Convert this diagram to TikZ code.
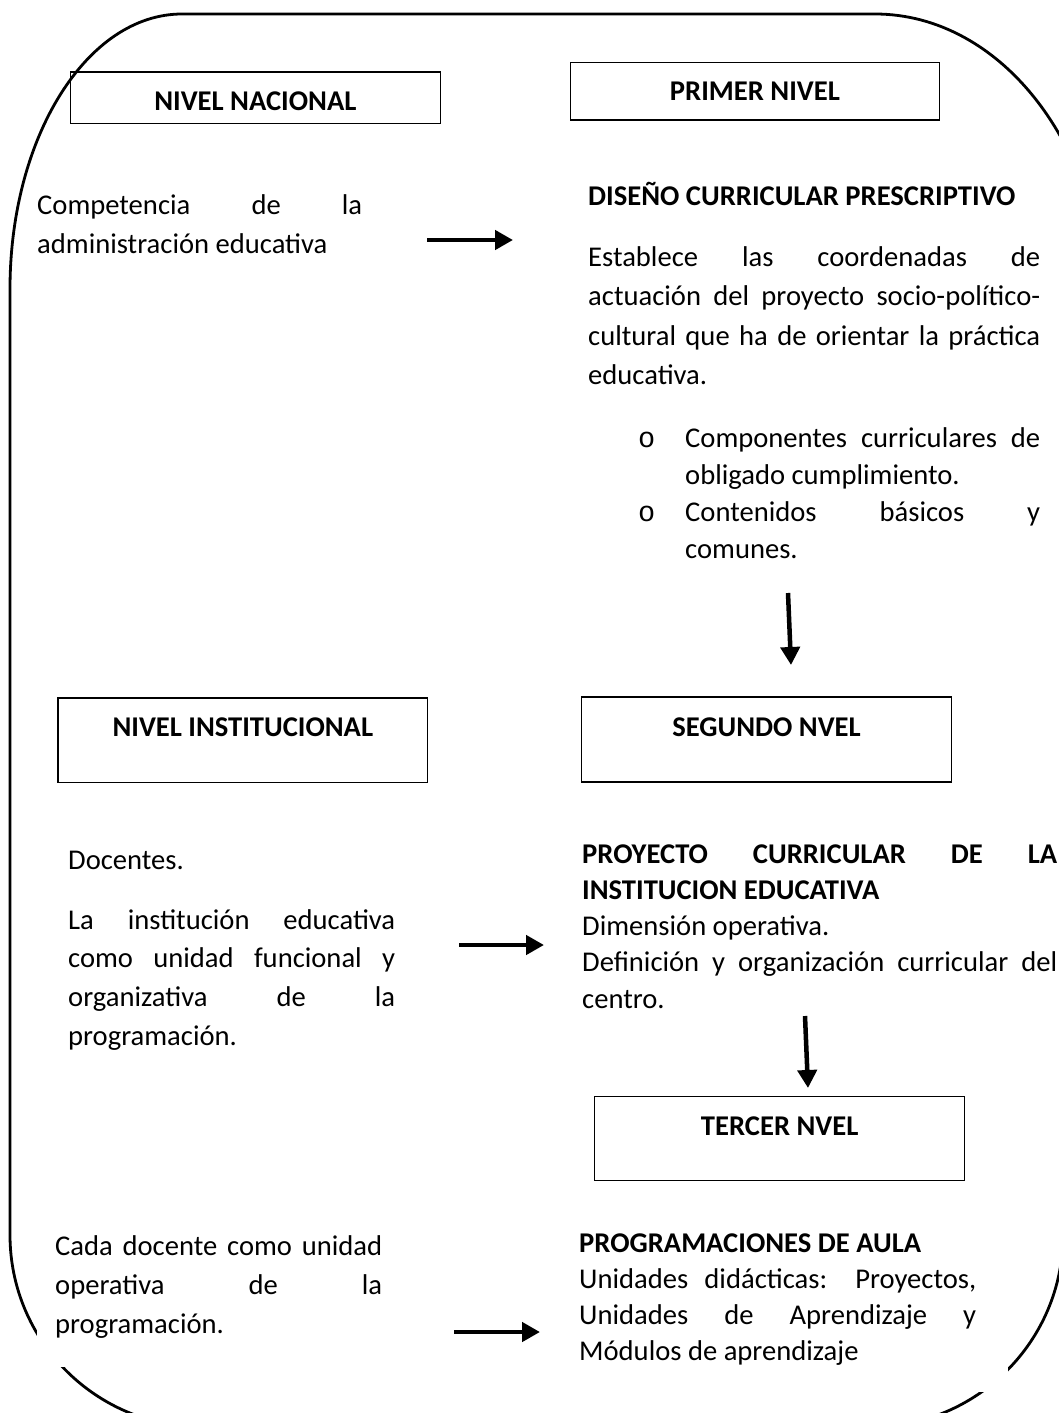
\documentclass[tikz,border=0pt]{standalone}
\usepackage{fontspec}
\setmainfont{Carlito}
\newfontfamily\monofam{Liberation Mono}
\usetikzlibrary{arrows.meta}
\newcommand\txtfont[1]{\fontsize{28.6}{#1}\selectfont\parindent=0pt\parskip=0pt\hyphenpenalty=10000\exhyphenpenalty=10000\tolerance=9999\relax}
\begin{document}
\begin{tikzpicture}[x=1pt,y=-1pt,
  lvlbox/.style={draw, line width=1.3pt, anchor=north west, inner sep=0pt, font={\txtfont{39}\bfseries}},
  txt/.style={anchor=north west, inner sep=0pt, align=justify},
  oneline/.style={anchor=north west, inner sep=0pt},
  arr/.style={line width=4.5pt, -{Triangle[length=18pt,width=19pt]}},
  frame/.style={line width=2.8pt}
]
\useasboundingbox (0,0) rectangle (1059,1413);
\fill[white] (0,0) rectangle (1059,1413);
% outer rounded frame (partly outside the page)
\begin{scope}
\clip (0,0) rectangle (1059,1413);
\draw[frame] (10,289) .. controls (10,137) and (87,14) .. (182,14) -- (875,14)
  .. controls (1002,14) and (1105,148) .. (1105,314) -- (1063,1235)
  .. controls (1063,1341) and (977,1427) .. (871,1427) -- (202,1427)
  .. controls (96,1427) and (10,1341) .. (10,1235) -- cycle;
\end{scope}
% white text-box backgrounds that hide parts of the frame
\fill[white] (37,1225) rectangle (402,1367);
\fill[white] (570,1230) rectangle (1008,1392);

% level boxes
\node[lvlbox, minimum width=369.8pt, text height=38.1pt, text depth=12.9pt] (nn) at (69.8,71.5) {NIVEL NACIONAL};
\node[lvlbox, minimum width=369.5pt, text height=38.5pt, text depth=19.2pt] (pn) at (569.5,61.7) {PRIMER NIVEL};
\node[lvlbox, minimum width=369.5pt, text height=38.5pt, text depth=45.9pt] (ni) at (57.4,697.4) {NIVEL INSTITUCIONAL};
\node[lvlbox, minimum width=370.2pt, text height=39.6pt, text depth=45.4pt] (sn) at (580.8,696.4) {SEGUNDO NVEL};
\node[lvlbox, minimum width=370pt, text height=39.5pt, text depth=44.5pt] (tn) at (594,1095.7) {TERCER NVEL};

% texts
\node[txt, text width=325pt, font={\txtfont{39}}] (comp) at (37,186.7) {\strut Competencia de la\linebreak administración educativa};
\node[oneline, font={\txtfont{39}\bfseries}] (dcp) at (588,178.4) {\strut DISEÑO CURRICULAR PRESCRIPTIVO};
\node[txt, text width=452pt, font={\txtfont{39.5}}] (est) at (588,238.35) {\strut Establece las coordenadas de\linebreak actuación del proyecto socio-político-\linebreak cultural que ha de orientar la práctica\linebreak educativa.};
\node[txt, text width=355pt, font={\txtfont{37}}] (b1) at (685,421.1) {\strut\llap{\monofam o\hspace{30pt}}Componentes curriculares de\linebreak obligado cumplimiento.};
\node[txt, text width=355pt, font={\txtfont{37}}] (b2) at (685,495.1) {\strut\llap{\monofam o\hspace{30pt}}Contenidos básicos y\linebreak comunes.};

\node[oneline, font={\txtfont{39}}] (doc) at (68,841.7) {\strut Docentes.};
\node[txt, text width=327pt, font={\txtfont{38.6}}] (inst) at (68,902) {\strut La institución educativa\linebreak como unidad funcional y\linebreak organizativa de la\linebreak programación.};
\node[txt, text width=475pt, font={\txtfont{36.25}}] (pci) at (582,837.6) {\strut\textbf{PROYECTO CURRICULAR DE LA\linebreak INSTITUCION EDUCATIVA}\par Dimensión operativa.\par Definición y organización curricular del\linebreak centro.};

\node[txt, text width=327pt, font={\txtfont{39}}] (cada) at (55,1227.7) {\strut Cada docente como unidad\linebreak operativa de la\linebreak programación.};
\node[txt, text width=397pt, font={\txtfont{36}}] (prog) at (579,1226.8) {\strut\textbf{PROGRAMACIONES DE AULA}\par Unidades didácticas: Proyectos,\linebreak Unidades de Aprendizaje y\linebreak Módulos de aprendizaje};

% arrows
\coordinate (h1s) at (427,240); \coordinate (h1e) at (513,240);
\coordinate (v1s) at (788,593); \coordinate (v1e) at (791,665);
\coordinate (h2s) at (459,945); \coordinate (h2e) at (544,945);
\coordinate (v2s) at (805,1016); \coordinate (v2e) at (808,1088);
\coordinate (h3s) at (454,1332); \coordinate (h3e) at (540,1332);
\draw[arr] (h1s) -- (h1e);
\draw[arr] (v1s) -- (v1e);
\draw[arr] (h2s) -- (h2e);
\draw[arr] (v2s) -- (v2e);
\draw[arr] (h3s) -- (h3e);
\end{tikzpicture}
\end{document}
